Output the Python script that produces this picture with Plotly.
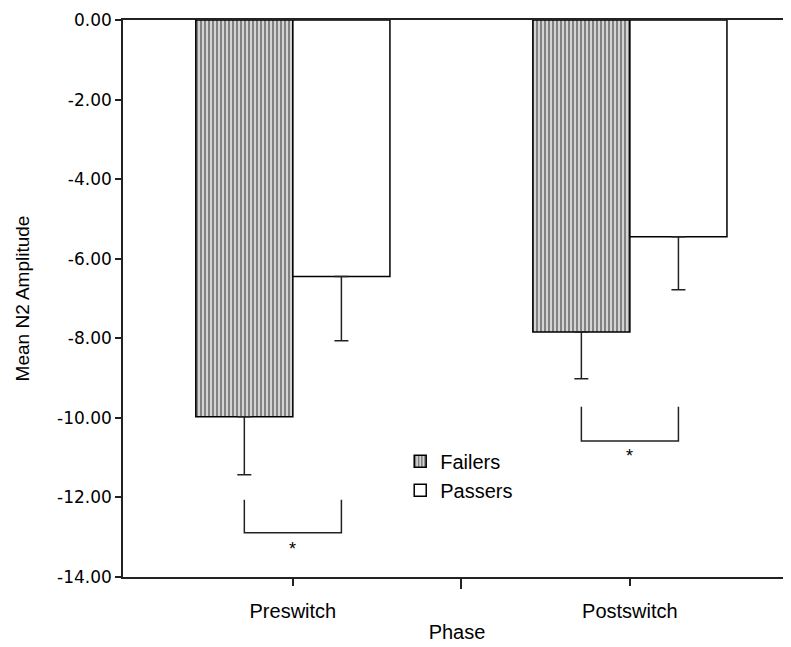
import plotly.graph_objects as go

# ---- data ----
phases = ["Preswitch", "Postswitch"]
failers_mean = [-9.97, -7.84]
failers_err = [1.46, 1.18]
passers_mean = [-6.45, -5.45]
passers_err = [1.61, 1.33]
bracket_top = [-12.06, -9.72]
bracket_bottom = [-12.89, -10.58]
star_y = [-13.3, -10.95]
y_ticks = [0, -2, -4, -6, -8, -10, -12, -14]
y_ticktext = [f"{v:.2f}" for v in y_ticks]

# ---- style constants ----
bar_w = 0.288
xpos = list(range(len(phases)))
ink = "#222222"

fig = go.Figure()
fig.add_trace(go.Bar(
    x=xpos, y=failers_mean, name="Failers", width=bar_w, offset=-bar_w,
    marker=dict(color="white", line=dict(color="black", width=1.5),
                pattern=dict(shape="|", size=4, solidity=0.62,
                             fgcolor="#151515", bgcolor="#eeeeee")),
    error_y=dict(type="data", symmetric=False, array=[0] * len(phases),
                 arrayminus=failers_err, color=ink, thickness=1.5, width=7),
))
fig.add_trace(go.Bar(
    x=xpos, y=passers_mean, name="Passers", width=bar_w, offset=0,
    marker=dict(color="white", line=dict(color="black", width=1.5)),
    error_y=dict(type="data", symmetric=False, array=[0] * len(phases),
                 arrayminus=passers_err, color=ink, thickness=1.5, width=7),
))

# significance brackets
bx, by = [], []
for i, c in enumerate(xpos):
    l, r = c - bar_w / 2, c + bar_w / 2
    bx += [l, l, r, r, None]
    by += [bracket_top[i], bracket_bottom[i], bracket_bottom[i], bracket_top[i], None]
fig.add_trace(go.Scatter(x=bx, y=by, mode="lines", line=dict(color=ink, width=1.5),
                         showlegend=False, hoverinfo="skip"))
for i, c in enumerate(xpos):
    fig.add_annotation(x=c, y=star_y[i], text="*", showarrow=False,
                       font=dict(size=18, color="black", family="Liberation Sans"))

fig.update_layout(
    width=783, height=639,
    margin=dict(l=115, r=0, t=12, b=70),
    paper_bgcolor="white", plot_bgcolor="white",
    barmode="overlay",
    font=dict(family="Liberation Sans", color="black"),
    showlegend=True,
    legend=dict(x=0.415, y=0.243, xanchor="left", yanchor="top",
                bgcolor="rgba(0,0,0,0)", font=dict(size=20, family="Liberation Sans"),
                itemwidth=30, tracegroupgap=0),
    xaxis=dict(range=[-0.504, 1.478], tickmode="array", tickvals=xpos, ticktext=phases,
               automargin=False,
               showline=True, linecolor=ink, linewidth=1.5, mirror=True,
               ticks="outside", ticklen=7, tickwidth=1.5, tickcolor=ink,
               ticklabelstandoff=8,
               minor=dict(tickmode="array", tickvals=[0.5], ticks="outside",
                          ticklen=10, tickwidth=1.5, tickcolor=ink),
               showgrid=False, zeroline=False,
               tickfont=dict(size=20, family="Liberation Sans"),
               title=dict(text="Phase", font=dict(size=20, family="Liberation Sans"),
                          standoff=4)),
    yaxis=dict(range=[-14, 0], tickmode="array", tickvals=y_ticks, ticktext=y_ticktext,
               automargin=False,
               showline=True, linecolor=ink, linewidth=1.5,
               ticks="outside", ticklen=6, tickwidth=1.5, tickcolor=ink,
               showgrid=False, zeroline=False,
               tickfont=dict(size=17, family="DejaVu Sans"),
               title=dict(text="Mean N2 Amplitude",
                          font=dict(size=19, family="Liberation Sans"), standoff=22)),
)

fig.write_html("out.html")
